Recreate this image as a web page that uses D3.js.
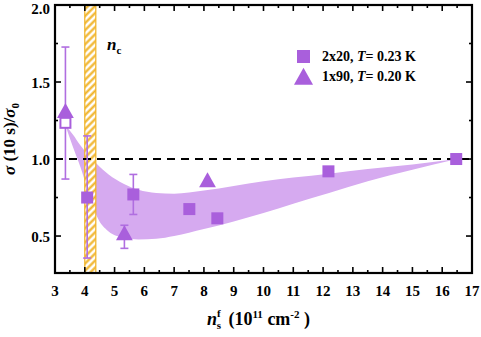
<!DOCTYPE html>
<html>
<head>
<meta charset="utf-8">
<script src="https://cdn.jsdelivr.net/npm/d3@7"></script>
<style>
  body { margin: 0; background: #fff; }
  text { font-family: "Liberation Serif", "Times New Roman", serif; font-weight: bold; }
</style>
</head>
<body>
<script>
// squares: 2x20, T = 0.23 K (first one is open)
const sqX = [3.35, 4.08, 5.63, 7.51, 8.45, 12.18, 16.47];
const sqY = [1.235, 0.75, 0.77, 0.675, 0.615, 0.92, 1.0];
const sqOpen = [true, false, false, false, false, false, false];
const sqErrLo = [null, 0.357, 0.64, null, null, null, null];
const sqErrHi = [null, 1.15, 0.90, null, null, null, null];

// triangles: 1x90, T = 0.20 K
const triX = [3.35, 5.33, 8.12];
const triY = [1.30, 0.505, 0.85];
const triErrLo = [0.87, 0.42, null];
const triErrHi = [1.727, 0.57, null];

// shaded band
const bandX = [3.35, 3.6, 3.85, 4.1, 4.4, 4.8, 5.3, 5.8, 6.4, 7.0, 8.0, 9.0, 10.0, 11.0, 12.2, 13.5, 15.0, 16.5];
const bandLo = [1.22, 1.08, 0.95, 0.80, 0.63, 0.53, 0.49, 0.478, 0.482, 0.50, 0.545, 0.595, 0.65, 0.71, 0.78, 0.855, 0.93, 1.0];
const bandHi = [1.22, 1.16, 1.09, 1.03, 0.97, 0.90, 0.84, 0.80, 0.78, 0.775, 0.795, 0.825, 0.855, 0.88, 0.905, 0.935, 0.965, 1.0];

// critical density band
const ncRange = [4.0, 4.37];

const xTicks = [3, 4, 5, 6, 7, 8, 9, 10, 11, 12, 13, 14, 15, 16, 17];
const yTicks = [0.5, 1.0, 1.5, 2.0];

const width = 481, height = 337;
const margin = {top: 5, right: 9, bottom: 64, left: 55};
const purple = '#a95fdc';
const errColor = '#b06ee0';
const bandColor = '#d6aaf0';
const gold = '#f0b224';

const svg = d3.select('body').append('svg')
  .attr('width', width).attr('height', height);

const x = d3.scaleLinear().domain([3, 17]).range([margin.left, width - margin.right]);
const y = d3.scaleLinear().domain([0.26, 2.0]).range([height - margin.bottom, margin.top]);

const defs = svg.append('defs');
const pat = defs.append('pattern')
  .attr('id', 'hatch')
  .attr('patternUnits', 'userSpaceOnUse')
  .attr('width', 5).attr('height', 5)
  .attr('patternTransform', 'rotate(45)');
pat.append('rect').attr('width', 5).attr('height', 5).attr('fill', '#fff');
pat.append('line').attr('x1', 1.5).attr('y1', 0).attr('x2', 1.5).attr('y2', 5)
  .attr('stroke', gold).attr('stroke-width', 2.2);

// band
const band = bandX.map((d, i) => ({x: d, lo: bandLo[i], hi: bandHi[i]}));
svg.append('path')
  .datum(band)
  .attr('fill', bandColor)
  .attr('d', d3.area()
    .x(d => x(d.x))
    .y0(d => y(d.lo))
    .y1(d => y(d.hi))
    .curve(d3.curveMonotoneX));

// n_c hatched strip
svg.append('rect')
  .attr('x', x(ncRange[0]))
  .attr('y', y(2.0))
  .attr('width', x(ncRange[1]) - x(ncRange[0]))
  .attr('height', y(0.26) - y(2.0))
  .attr('fill', 'url(#hatch)')
  .attr('stroke', gold).attr('stroke-width', 1.2);

// dashed reference line
svg.append('line')
  .attr('x1', x(3)).attr('x2', x(17))
  .attr('y1', y(1.0)).attr('y2', y(1.0))
  .attr('stroke', '#000').attr('stroke-width', 2)
  .attr('stroke-dasharray', '8,6');

// error bars
function errBars(xs, lo, hi) {
  const data = xs.map((d, i) => ({x: d, lo: lo[i], hi: hi[i]})).filter(d => d.lo != null);
  const g = svg.append('g').attr('stroke', errColor).attr('stroke-width', 1.6).attr('fill', 'none');
  data.forEach(d => {
    g.append('line').attr('x1', x(d.x)).attr('x2', x(d.x)).attr('y1', y(d.lo)).attr('y2', y(d.hi));
    g.append('line').attr('x1', x(d.x) - 4).attr('x2', x(d.x) + 4).attr('y1', y(d.lo)).attr('y2', y(d.lo));
    g.append('line').attr('x1', x(d.x) - 4).attr('x2', x(d.x) + 4).attr('y1', y(d.hi)).attr('y2', y(d.hi));
  });
}
errBars(sqX, sqErrLo, sqErrHi);
errBars(triX, triErrLo, triErrHi);

function triPath(cx, cy, s) {
  return `M${cx},${cy - s * 0.66}L${cx + s * 0.56},${cy + s * 0.34}L${cx - s * 0.56},${cy + s * 0.34}Z`;
}

// triangles
svg.append('g').selectAll('path')
  .data(triX.map((d, i) => ({x: d, y: triY[i]})))
  .enter().append('path')
  .attr('d', d => triPath(x(d.x), y(d.y), 15))
  .attr('fill', purple);

// squares (open one drawn smaller with a border)
svg.append('g').selectAll('rect')
  .data(sqX.map((d, i) => ({x: d, y: sqY[i], open: sqOpen[i]})))
  .enter().append('rect')
  .attr('x', d => x(d.x) - (d.open ? 5 : 6))
  .attr('y', d => y(d.y) - (d.open ? 5 : 6))
  .attr('width', d => d.open ? 10 : 12)
  .attr('height', d => d.open ? 10 : 12)
  .attr('fill', d => d.open ? '#fff' : purple)
  .attr('stroke', purple)
  .attr('stroke-width', d => d.open ? 2 : 0);

// axes
const xMinor = d3.range(3.5, 17, 1);
const yMinor = [0.75, 1.25, 1.75];
const ax = svg.append('g').attr('stroke', '#000').attr('stroke-width', 1.6);
const x0 = x(3), x1 = x(17), y0 = y(0.26), y1 = y(2.0);
xTicks.concat(xMinor).forEach(t => {
  const L = Number.isInteger(t) ? 6 : 3;
  ax.append('line').attr('x1', x(t)).attr('x2', x(t)).attr('y1', y0).attr('y2', y0 - L);
  ax.append('line').attr('x1', x(t)).attr('x2', x(t)).attr('y1', y1).attr('y2', y1 + L);
});
yTicks.concat(yMinor).forEach(t => {
  const L = yTicks.includes(t) ? 6 : 3;
  ax.append('line').attr('y1', y(t)).attr('y2', y(t)).attr('x1', x0).attr('x2', x0 + L);
  ax.append('line').attr('y1', y(t)).attr('y2', y(t)).attr('x1', x1).attr('x2', x1 - L);
});
svg.append('rect')
  .attr('x', x0).attr('y', y1).attr('width', x1 - x0).attr('height', y0 - y1)
  .attr('fill', 'none').attr('stroke', '#000').attr('stroke-width', 2.2);

svg.append('g').selectAll('text')
  .data(xTicks).enter().append('text')
  .attr('x', d => x(d)).attr('y', 296)
  .attr('text-anchor', 'middle').attr('font-size', 15)
  .text(d => d);

svg.append('g').selectAll('text')
  .data(yTicks).enter().append('text')
  .attr('x', 50).attr('y', d => Math.max(y(d) + 6, 13.5))
  .attr('text-anchor', 'end').attr('font-size', 15)
  .text(d => d.toFixed(1));

// n_c label
const nc = svg.append('text').attr('x', 107).attr('y', 50).attr('font-size', 17);
nc.append('tspan').attr('font-style', 'italic').text('n');
nc.append('tspan').attr('font-size', 11).attr('dy', 4).text('c');

// x axis label
const xl = svg.append('text').attr('x', 207).attr('y', 325).attr('font-size', 18);
xl.append('tspan').attr('font-style', 'italic').text('n');
xl.append('tspan').attr('font-size', 11).attr('dy', -8).text('f');
xl.append('tspan').attr('font-size', 11).attr('dx', -4).attr('dy', 12).text('s');
xl.append('tspan').attr('dx', 3).attr('dy', -4).text(' (10');
xl.append('tspan').attr('font-size', 11).attr('dy', -7).text('11');
xl.append('tspan').attr('dy', 7).text(' cm');
xl.append('tspan').attr('font-size', 11).attr('dy', -7).text('-2');
xl.append('tspan').attr('dy', 7).text(' )');

// y axis label
const yl = svg.append('text')
  .attr('transform', `translate(15,${(y0 + y1) / 2}) rotate(-90)`)
  .attr('text-anchor', 'middle').attr('font-size', 17);
yl.append('tspan').attr('font-style', 'italic').text('σ');
yl.append('tspan').text(' (10 s)/');
yl.append('tspan').attr('font-style', 'italic').text('σ');
yl.append('tspan').attr('font-size', 11).attr('dy', 4).text('0');

// legend
const leg = svg.append('g');
leg.append('rect').attr('x', 297).attr('y', 50).attr('width', 13).attr('height', 13).attr('fill', purple);
leg.append('path').attr('d', triPath(303.5, 79, 17)).attr('fill', purple);
const l1 = leg.append('text').attr('x', 322).attr('y', 61).attr('font-size', 14);
l1.append('tspan').text('2x20, ');
l1.append('tspan').attr('font-style', 'italic').text('T');
l1.append('tspan').text('= 0.23 K');
const l2 = leg.append('text').attr('x', 322).attr('y', 81).attr('font-size', 14);
l2.append('tspan').text('1x90, ');
l2.append('tspan').attr('font-style', 'italic').text('T');
l2.append('tspan').text('= 0.20 K');
</script>
</body>
</html>
